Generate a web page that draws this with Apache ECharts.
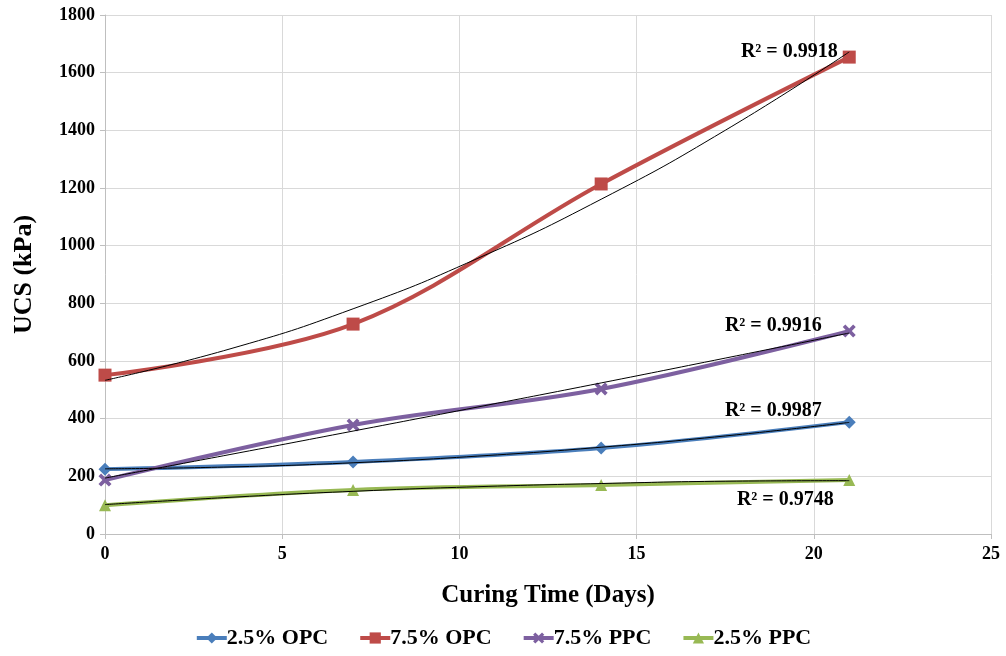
<!DOCTYPE html>
<html><head><meta charset="utf-8">
<script src="https://cdn.jsdelivr.net/npm/echarts@6/dist/echarts.min.js"></script>
<style>html,body{margin:0;padding:0;background:#fff}#c{width:1006px;height:656px}</style>
</head><body><div id="c"></div>
<script>
const days = [0, 7, 14, 21];
const opc25 = [225, 250, 298, 388];
const opc75 = [551, 728, 1214, 1654];
const ppc75 = [187, 378, 503, 704];
const ppc25 = [100, 153, 170, 187];
const trendDays = [0, 3.5, 7, 10.5, 14, 17.5, 21];
const trendOpc25 = [226, 232.5, 247, 270, 301, 340, 387];
const trendOpc75 = [533, 641, 781, 955, 1161, 1400, 1672];
const trendPpc75 = [194, 275, 357, 440, 524, 610, 697];
const trendPpc25 = [102, 127, 148, 164, 175, 183, 185];
const r2Labels = ['R² = 0.9987', 'R² = 0.9918', 'R² = 0.9916', 'R² = 0.9748'];
const names = ['2.5% OPC', '7.5% OPC', '7.5% PPC', '2.5% PPC'];
const colors = ['#4a7ebb', '#be4b48', '#7d60a0', '#98b954'];

const FONT = 'Liberation Serif';
const pair = (xs, ys) => xs.map((x, i) => [x, ys[i]]);
const crossPath = 'path://M2,0 L5,3 L8,0 L10,2 L7,5 L10,8 L8,10 L5,7 L2,10 L0,8 L3,5 L0,2 Z';
const symbols = ['diamond', 'rect', crossPath, 'triangle'];
const sizes = [13, 13, 13, 12];
const mainData = [opc25, opc75, ppc75, ppc25];
const trendData = [trendOpc25, trendOpc75, trendPpc75, trendPpc25];
const labelOffsets = [[-27, -12], [-11, 0], [-27, -7], [-15, 19]];

const series = [];
mainData.forEach((d, i) => {
  series.push({
    name: names[i], type: 'line', data: pair(days, d), smooth: 0.35,
    symbol: symbols[i], symbolSize: sizes[i],
    lineStyle: { color: colors[i], width: 4 },
    itemStyle: { color: colors[i] }, z: 2
  });
});
trendData.forEach((d, i) => {
  const pts = pair(trendDays, d);
  const last = pts[pts.length - 1];
  series.push({
    name: 'trend' + i, type: 'line', data: pts, smooth: true, showSymbol: false, symbol: 'none',
    lineStyle: { color: '#000', width: 1 }, z: 3, silent: true,
    markPoint: {
      symbol: 'circle', symbolSize: 1, itemStyle: { color: 'rgba(0,0,0,0)' }, silent: true,
      data: [{ coord: last, label: { show: true, formatter: r2Labels[i], position: 'left', distance: 0,
        offset: labelOffsets[i], fontFamily: FONT, fontWeight: 'bold', fontSize: 20, color: '#000' } }]
    }
  });
});

const chart = echarts.init(document.getElementById('c'));
chart.setOption({
  animation: false,
  backgroundColor: '#fff',
  grid: { left: 105, right: 15, top: 15, bottom: 122, containLabel: false },
  legend: {
    data: names, bottom: 2, left: 'center', itemWidth: 30, itemHeight: 14, itemGap: 30,
    lineStyle: { width: 4 },
    textStyle: { fontFamily: FONT, fontWeight: 'bold', fontSize: 22, color: '#000', padding: [0, 0, 0, -5] }
  },
  xAxis: {
    type: 'value', min: 0, max: 25, interval: 5,
    name: 'Curing Time (Days)', nameLocation: 'middle', nameGap: 49,
    nameTextStyle: { fontFamily: FONT, fontWeight: 'bold', fontSize: 25, color: '#000' },
    axisLine: { show: true, lineStyle: { color: '#bfbfbf', width: 1 } },
    axisTick: { show: true, length: 5, lineStyle: { color: '#bfbfbf' } },
    axisLabel: { fontFamily: FONT, fontWeight: 'bold', fontSize: 18, color: '#000', margin: 11 },
    splitLine: { show: true, lineStyle: { color: '#d9d9d9' } }
  },
  yAxis: {
    type: 'value', min: 0, max: 1800, interval: 200,
    name: 'UCS (kPa)', nameLocation: 'middle', nameGap: 68,
    nameTextStyle: { fontFamily: FONT, fontWeight: 'bold', fontSize: 26, color: '#000' },
    axisLine: { show: true, lineStyle: { color: '#bfbfbf', width: 1 } },
    axisTick: { show: true, length: 5, lineStyle: { color: '#bfbfbf' } },
    axisLabel: { fontFamily: FONT, fontWeight: 'bold', fontSize: 18, color: '#000', margin: 10,
      formatter: v => String(v) },
    splitLine: { show: true, lineStyle: { color: '#d9d9d9' } }
  },
  series
});
</script>
</body></html>
